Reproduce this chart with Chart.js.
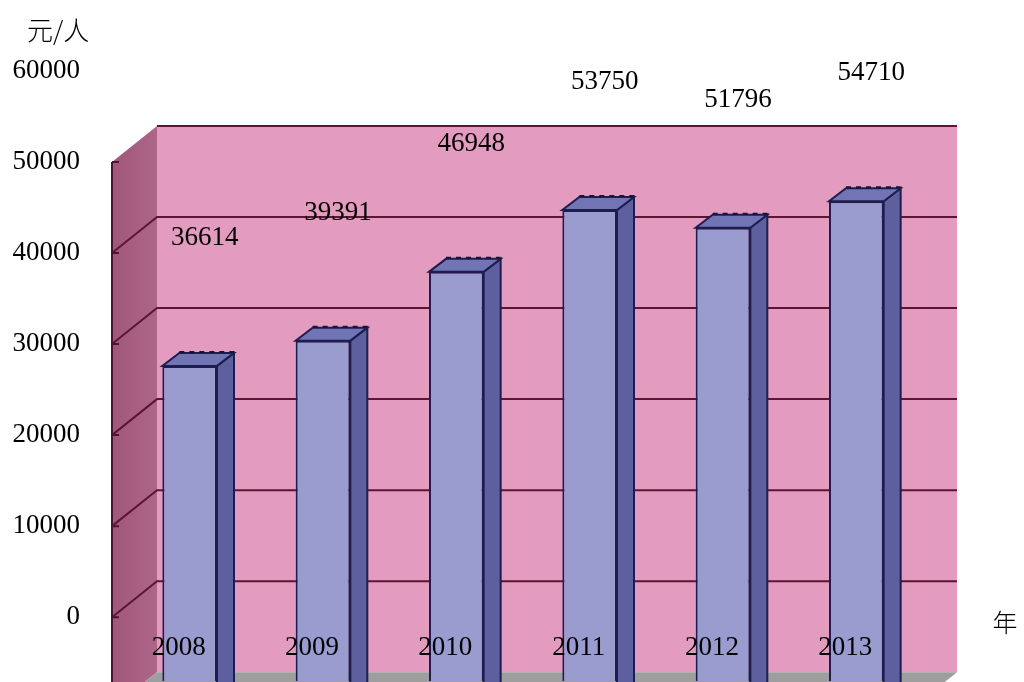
<!DOCTYPE html>
<html>
<head>
<meta charset="utf-8">
<script src="https://cdn.jsdelivr.net/npm/chart.js@4.4.1/dist/chart.umd.min.js"></script>
<style>
  html, body { margin: 0; padding: 0; background: #fff; overflow: hidden; }
  canvas { display: block; }
</style>
</head>
<body>
<canvas id="chart" width="1024" height="682"></canvas>
<script>
// data
const YEARS = ['2008', '2009', '2010', '2011', '2012', '2013'];
const INCOME = [36614, 39391, 46948, 53750, 51796, 54710];
const Y_TICKS = [0, 10000, 20000, 30000, 40000, 50000, 60000];
const GRID_VALUES = [10000, 20000, 30000, 40000, 50000, 60000];
const WALL_MAX = 60000;

// 3D look: offsets between planes (px)
const FRONT = { dx: 34, dy: 27 };   // bar front plane -> back wall
const WALL = { dx: 45, dy: 36 };    // back wall -> front edge of left wall
const BAR = { dx: 17, dy: 13 };     // bar depth

const SERIF = '"Liberation Serif", "DejaVu Serif", serif';
const CJK = '"Noto Sans CJK SC", sans-serif';

function poly(ctx, pts, fill, stroke, lw) {
    ctx.beginPath();
    ctx.moveTo(pts[0][0], pts[0][1]);
    for (let i = 1; i < pts.length; i++) ctx.lineTo(pts[i][0], pts[i][1]);
    ctx.closePath();
    if (fill) { ctx.fillStyle = fill; ctx.fill(); }
    if (stroke) { ctx.strokeStyle = stroke; ctx.lineWidth = lw || 1; ctx.stroke(); }
}

const box3d = {
    id: 'box3d',
    beforeDatasetsDraw(chart) {
        const { ctx, chartArea: a, scales: { y } } = chart;
        const bx0 = a.left + FRONT.dx, bx1 = a.right + FRONT.dx;
        const by = v => y.getPixelForValue(v) - FRONT.dy;
        const top = by(WALL_MAX), bot = by(0);
        const fx = bx0 - WALL.dx;

        ctx.save();
        // back wall
        ctx.fillStyle = '#E39BBF';
        ctx.fillRect(bx0, top, bx1 - bx0, bot - top);
        // left wall
        const g = ctx.createLinearGradient(fx, 0, bx0, 0);
        g.addColorStop(0, '#A0577A');
        g.addColorStop(1, '#AE6688');
        poly(ctx, [[bx0, top], [bx0, bot], [fx, bot + WALL.dy], [fx, top + WALL.dy]], g);
        // floor
        poly(ctx, [[bx0, bot], [bx1, bot], [bx1 - WALL.dx, bot + WALL.dy], [fx, bot + WALL.dy]], '#9E9E9E');

        // gridlines on both walls
        ctx.strokeStyle = '#5A1634';
        ctx.lineWidth = 2;
        GRID_VALUES.forEach(v => {
            const yy = by(v);
            ctx.beginPath();
            if (v !== WALL_MAX) {
                ctx.moveTo(fx, yy + WALL.dy);
                ctx.lineTo(bx0, yy);
            } else {
                ctx.moveTo(bx0, yy);
            }
            ctx.lineTo(bx1, yy);
            ctx.stroke();
        });

        // axis line on front edge of left wall + tick marks
        ctx.strokeStyle = '#4A1530';
        ctx.lineWidth = 2;
        ctx.beginPath();
        ctx.moveTo(fx, top + WALL.dy);
        ctx.lineTo(fx, bot + WALL.dy);
        GRID_VALUES.forEach(v => {
            const yy = by(v) + WALL.dy;
            ctx.moveTo(fx, yy);
            ctx.lineTo(fx + 7, yy);
        });
        ctx.stroke();

        // side and top faces of the bars (bars really start at 0, below the crop)
        const zero = y.getPixelForValue(0);
        const meta = chart.getDatasetMeta(0);
        meta.data.forEach(bar => {
            const { x, y: yt, width } = bar.getProps(['x', 'y', 'width'], true);
            const x1 = x - width / 2, x2 = x + width / 2;
            poly(ctx, [[x2, yt], [x2 + BAR.dx, yt - BAR.dy], [x2 + BAR.dx, zero - BAR.dy], [x2, zero]],
                '#5D5F9F', '#1E1E4E', 2);
            poly(ctx, [[x1, yt], [x2, yt], [x2 + BAR.dx, yt - BAR.dy], [x1 + BAR.dx, yt - BAR.dy]],
                '#7175B5', '#1E1E4E', 2);
            // dotted back edge seen in the original
            ctx.save();
            ctx.setLineDash([5, 5]);
            ctx.strokeStyle = '#15153A';
            ctx.lineWidth = 2;
            ctx.beginPath();
            ctx.moveTo(x1 + BAR.dx, yt - BAR.dy - 1);
            ctx.lineTo(x2 + BAR.dx, yt - BAR.dy - 1);
            ctx.stroke();
            ctx.restore();
        });
        ctx.restore();
    },
    afterDraw(chart) {
        const { ctx, scales: { y } } = chart;
        const meta = chart.getDatasetMeta(0);
        ctx.save();
        ctx.fillStyle = '#000';
        ctx.textAlign = 'center';
        ctx.textBaseline = 'middle';
        ctx.font = '27px ' + SERIF;
        const zero = y.getPixelForValue(0);
        meta.data.forEach((bar, i) => {
            ctx.fillText(String(INCOME[i]), bar.x + 15, bar.y - 128);
            ctx.fillText(YEARS[i], bar.x - 11, zero - 51);
        });
        // unit labels
        ctx.font = '300 26px ' + CJK;
        ctx.textAlign = 'left';
        ctx.fillText('元/人', 27, 30);
        ctx.font = '300 25px ' + CJK;
        ctx.textAlign = 'center';
        ctx.fillText('年', 1005, 622);
        ctx.restore();
    }
};

new Chart(document.getElementById('chart'), {
    type: 'bar',
    data: {
        labels: YEARS,
        datasets: [{
            data: INCOME,
            backgroundColor: '#9A9BCF',
            borderColor: '#1E1E4E',
            borderWidth: 2,
            borderSkipped: 'bottom',
            barPercentage: 1,
            categoryPercentage: 0.41
        }]
    },
    options: {
        responsive: false,
        animation: false,
        layout: { padding: { top: 62, right: 101, bottom: 1, left: 0 } },
        plugins: { legend: { display: false }, tooltip: { enabled: false } },
        scales: {
            x: { display: false },
            // the picture is cropped: the value axis starts below the bottom edge
            y: { display: false, min: 2000, max: 70000 },
            yl: {
                position: 'left',
                min: -7000,
                max: 61000,
                afterBuildTicks: s => { s.ticks = Y_TICKS.map(v => ({ value: v })); },
                afterFit: s => { s.width = 123; s.paddingTop = 0; s.paddingBottom = 0; },
                border: { display: false },
                grid: { display: false, drawTicks: false },
                ticks: {
                    color: '#000',
                    padding: 43,
                    font: { family: SERIF, size: 27 },
                    callback: v => String(v)
                }
            }
        }
    },
    plugins: [box3d]
});
</script>
</body>
</html>
